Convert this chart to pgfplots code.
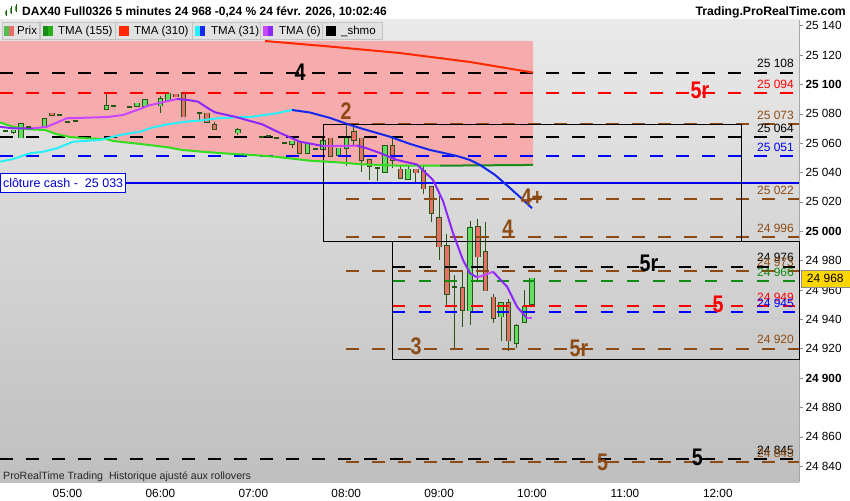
\documentclass[border=0pt]{standalone}
\usepackage{fontspec}
\setmainfont{Liberation Sans}
\usepackage{graphicx}
\usepackage{pgfplots}
\pgfplotsset{compat=1.18}

\definecolor{bgtop}{RGB}{234,234,234}
\definecolor{bgbot}{RGB}{191,191,191}
\definecolor{pinkz}{RGB}{246,172,172}
\definecolor{cdark}{RGB}{38,85,22}
\definecolor{cgreen}{RGB}{98,222,98}
\definecolor{cred}{RGB}{232,112,104}
\definecolor{brownl}{RGB}{140,75,20}
\definecolor{tmagreen}{RGB}{50,220,30}
\definecolor{tmagreend}{RGB}{25,140,25}
\definecolor{tmared}{RGB}{255,40,0}
\definecolor{tmacyan}{RGB}{40,240,250}
\definecolor{tmablue}{RGB}{20,40,235}
\definecolor{tmamag}{RGB}{200,70,255}
\definecolor{tmavio}{RGB}{140,40,250}
\definecolor{lgreen}{RGB}{17,140,17}
\definecolor{pricey}{RGB}{255,215,0}
\definecolor{legbg}{RGB}{226,226,226}
\definecolor{legbd}{RGB}{195,195,195}

\newcommand\fs[1]{\fontsize{#1}{#1}\selectfont}
\newcommand\blab[1]{\scalebox{0.82}[1]{\fs{24}\bfseries #1}}

\pgfplotsset{
  hl/.style={line width=2pt, dash pattern=on 12.5pt off 13.5pt, forget plot},
  ma/.style={line width=2pt, line join=round, forget plot},
}
% candle: time, open, high, low, close, body colour
\newcommand\candle[6]{%
  \addplot[cdark, line width=1pt, forget plot] coordinates {(#1,#4) (#1,#3)};
  \addplot[cdark, line width=5.4pt, shorten <=-0.7pt, shorten >=-0.7pt, forget plot] coordinates {(#1,#2) (#1,#5)};
  \addplot[#6, line width=3.4pt, forget plot] coordinates {(#1,#2) (#1,#5)};}
\newcommand\candG[5]{\candle{#1}{#2}{#3}{#4}{#5}{cgreen}}
\newcommand\candR[5]{\candle{#1}{#2}{#3}{#4}{#5}{cred}}
% doji: time, price, high, low
\newcommand\dojiw[4]{%
  \addplot[cdark, line width=1pt, forget plot] coordinates {(#1,#4) (#1,#3)};
  \addplot[only marks, mark=-, mark size=2.5pt, mark options={cdark, line width=2pt}, forget plot] coordinates {(#1,#2)};}
\newcommand\doji[2]{\dojiw{#1}{#2}{#2}{#2}}

\begin{document}
\begin{tikzpicture}
\useasboundingbox (0,0) rectangle (850pt,500pt);

\begin{axis}[
  at={(0pt,18pt)}, anchor=south west,
  width=799pt, height=462pt, scale only axis,
  xmin=4.2734, xmax=12.874, ymin=24829.3, ymax=25143.9,
  clip=false,
  scaled y ticks=false, scaled x ticks=false,
  axis background/.style={top color=bgtop, bottom color=bgbot},
  axis x line*=bottom, axis y line*=right,
  axis line style={-},
  x axis line style={draw=none},
  y axis line style={draw=black!35, line width=0.8pt},
  xtick={5,6,...,12},
  xticklabels={05:00,06:00,07:00,08:00,09:00,10:00,11:00,12:00},
  xtick style={draw=none},
  ytick={24840,24860,...,25140},
  yticklabels={24 840,24 860,24 880,\textbf{24 900},24 920,24 940,24 960,24 980,\textbf{25 000},25 020,25 040,25 060,25 080,\textbf{25 100},25 120,25 140},
  minor y tick num=1,
  tick align=outside, major tick length=4pt, minor tick length=3pt,
  ytick style={draw=black!45, line width=0.6pt},
  ticklabel style={font=\fs{11.8}},
  yticklabel style={xshift=-1pt},
]

% pink zone above TMA(155)
\addplot[fill=pinkz, draw=none, forget plot] coordinates {
  (4.2734,25129.6) (10.011,25129.6) (10.011,25045.2) (9.225,25044.8) (8.579,25044.7)
  (8.181,25045.6) (7.901,25047.0) (7.610,25048.1) (7.233,25050.8) (6.986,25052.0)
  (6.728,25052.9) (6.448,25054.2) (6.232,25055.4) (6.082,25057.2) (5.780,25059.5)
  (5.490,25061.5) (5.425,25062.7) (5.210,25063.3) (5.027,25064.2) (4.887,25066.1)
  (4.758,25069.0) (4.564,25069.5) (4.413,25071.2) (4.2734,25074.2)} -- cycle;

% candles
\doji{4.3333}{25068.4}
\candG{4.4167}{25067.5}{25068.8}{25066.3}{25068.8}
\candG{4.5}{25063.8}{25073.0}{25063.8}{25073.0}
\doji{4.5833}{25071.1}
\candG{4.75}{25070.6}{25076.4}{25070.6}{25076.4}
\candR{4.8333}{25080.4}{25080.4}{25079.0}{25079.0}
\doji{4.9167}{25079.4}
\doji{5.0}{25074.7}
\doji{5.0833}{25075.4}
\candG{5.4167}{25083.0}{25094.0}{25083.0}{25085.3}
\doji{5.5}{25085.5}
\doji{5.6667}{25084.6}
\candG{5.75}{25085.0}{25087.2}{25085.0}{25087.2}
\candG{5.8333}{25085.1}{25089.4}{25085.1}{25089.4}
\candG{6.0}{25085.5}{25092.2}{25080.7}{25090.1}
\candG{6.0833}{25088.9}{25094.0}{25088.9}{25094.0}
\candR{6.1667}{25093.3}{25093.3}{25091.7}{25091.7}
\candR{6.25}{25094.7}{25094.7}{25078.0}{25078.0}
\dojiw{6.4167}{25080.7}{25080.7}{25075.7}
\candR{6.5}{25080.3}{25080.3}{25074.2}{25074.2}
\candR{6.5833}{25072.4}{25074.2}{25069.8}{25069.8}
\candG{6.8333}{25067.1}{25070.5}{25065.5}{25068.9}
\doji{7.0833}{25064.0}
\doji{7.1667}{25065.1}
\doji{7.25}{25063.8}
\doji{7.3333}{25060.3}
\candG{7.4167}{25059.2}{25061.3}{25056.9}{25061.3}
\candR{7.5}{25061.0}{25061.0}{25053.1}{25053.1}
\candG{7.5833}{25053.1}{25059.2}{25053.1}{25059.2}
\doji{7.6667}{25055.8}
\candG{7.75}{25055.8}{25063.8}{25055.8}{25061.7}
\candR{7.8333}{25063.4}{25063.4}{25051.0}{25051.0}
\candG{7.9167}{25051.9}{25056.5}{25051.9}{25056.5}
\candG{8.0}{25056.5}{25073.0}{25044.6}{25064.0}
\candR{8.0833}{25067.9}{25073.2}{25058.8}{25062.2}
\candR{8.1667}{25063.4}{25063.4}{25040.5}{25048.5}
\candR{8.25}{25048.5}{25048.5}{25035.0}{25044.5}
\dojiw{8.3333}{25043.3}{25043.3}{25034.2}
\candG{8.4167}{25040.1}{25058.2}{25040.1}{25058.2}
\candR{8.5}{25058.2}{25065.0}{25042.9}{25048.6}
\candR{8.5833}{25042.2}{25045.1}{25036.1}{25036.1}
\candG{8.6667}{25035.4}{25044.6}{25035.4}{25042.2}
\candR{8.75}{25042.2}{25042.2}{25032.0}{25040.0}
\candR{8.8333}{25041.3}{25045.2}{25025.4}{25029.0}
\candR{8.9167}{25030.1}{25030.1}{25006.6}{25012.3}
\candR{9.0}{25009.0}{25024.2}{24980.5}{24989.6}
\candR{9.0833}{24990.1}{24998.3}{24949.1}{24957.4}
\dojiw{9.1667}{24962.4}{24970.4}{24920.1}
\candR{9.25}{24961.3}{24973.3}{24935.1}{24946.5}
\candG{9.3333}{24946.0}{25007.1}{24936.3}{25002.4}
\candR{9.4167}{25002.9}{25008.5}{24967.0}{24982.8}
\candR{9.5}{24985.9}{25006.2}{24959.6}{24959.6}
\candR{9.5833}{24955.1}{24957.2}{24937.8}{24940.8}
\candG{9.6667}{24941.9}{24951.1}{24925.5}{24951.1}
\candR{9.75}{24951.1}{24953.8}{24918.7}{24925.5}
\candG{9.8333}{24923.8}{24937.0}{24920.7}{24935.6}
\candG{9.9167}{24938.1}{24960.1}{24938.1}{24948.8}
\candG{10.0}{24950.4}{24968.5}{24950.4}{24968.0}

% horizontal levels
\addplot[hl, black] coordinates {(4.2734,25108) (12.874,25108)};
\addplot[hl, red] coordinates {(4.2734,25094) (12.874,25094)};
\addplot[hl, brownl] coordinates {(8,25073) (12.874,25073)};
\addplot[hl, black] coordinates {(4.2734,25064) (12.874,25064)};
\addplot[hl, blue] coordinates {(4.2734,25051) (12.874,25051)};
\addplot[hl, brownl] coordinates {(8,25022) (12.874,25022)};
\addplot[hl, brownl] coordinates {(8,24996) (12.874,24996)};
\addplot[hl, black] coordinates {(8.5,24976) (12.874,24976)};
\addplot[hl, brownl] coordinates {(8,24973) (12.874,24973)};
\addplot[hl, lgreen] coordinates {(8.5,24966) (12.874,24966)};
\addplot[hl, red] coordinates {(8.5,24949) (12.874,24949)};
\addplot[hl, blue] coordinates {(8.5,24945) (12.874,24945)};
\addplot[hl, brownl] coordinates {(8,24920) (12.874,24920)};
\addplot[hl, black] coordinates {(4.2734,24845) (12.874,24845)};
\addplot[hl, brownl] coordinates {(8,24843) (12.874,24843)};
% cash close
\addplot[line width=1.5pt, blue!93!black, forget plot] coordinates {(4.2734,25033) (12.874,25033)};

% boxes
\addplot[black, line width=0.9pt, forget plot] coordinates {
  (7.75,25073) (12.25,25073) (12.25,24993.4) (7.75,24993.4) (7.75,25073)};
\addplot[black, line width=0.9pt, forget plot] coordinates {
  (8.5,24993.4) (12.874,24993.4) (12.874,24912.9) (8.5,24912.9) (8.5,24993.4)};

% TMA (155)
\addplot[ma, tmagreen] coordinates {
  (4.273,25074.2) (4.413,25071.2) (4.564,25069.5) (4.758,25069.0) (4.887,25066.1)
  (5.027,25064.2) (5.210,25063.3) (5.425,25062.7) (5.490,25061.5) (5.780,25059.5)
  (6.082,25057.2) (6.232,25055.4) (6.448,25054.2) (6.728,25052.9) (6.986,25052.0)
  (7.233,25050.8) (7.610,25048.1) (7.901,25047.0) (8.181,25045.6) (8.579,25044.7)
  (9.01,25044.7)};
\addplot[ma, tmagreend] coordinates {(9.01,25044.7) (9.225,25044.8) (10.011,25045.2)};

% TMA (310)
\addplot[ma, tmared] coordinates {
  (7.126,25129.6) (7.826,25125.8) (8.579,25121.4) (9.333,25115.3) (10.011,25108.1)};

% TMA (31)
\addplot[ma, tmacyan] coordinates {
  (4.273,25047.4) (4.413,25049.2) (4.596,25053.1) (4.736,25054.2) (4.887,25056.5)
  (5.059,25061.0) (5.350,25062.2) (5.565,25065.6) (5.780,25067.8) (5.910,25070.6)
  (6.082,25072.9) (6.265,25074.6) (6.448,25075.6) (6.620,25077.0) (6.803,25077.6)
  (6.986,25078.0) (7.233,25080.2) (7.417,25082.6)};
\addplot[ma, tmablue] coordinates {
  (7.417,25082.6) (7.610,25080.9) (7.826,25077.2) (8.009,25073.1) (8.181,25069.7)
  (8.471,25064.4) (8.687,25059.5) (8.902,25055.4) (9.193,25051.3) (9.333,25048.6)
  (9.440,25045.2) (9.602,25038.4) (9.763,25029.5) (9.925,25020.2) (10.0,25015.7)};

% TMA (6)
\addplot[ma, tmavio] coordinates {(4.273,25071.2) (4.413,25070.1) (4.629,25070.1)};
\addplot[ma, tmamag] coordinates {
  (4.629,25070.1) (4.779,25071.2) (4.995,25077.0) (5.210,25077.4) (5.425,25077.8)
  (5.597,25079.2) (5.780,25083.3) (5.866,25085.5) (6.017,25087.8) (6.179,25090.1)};
\addplot[ma, tmavio] coordinates {
  (6.179,25090.1) (6.297,25089.4) (6.405,25088.3) (6.502,25084.2) (6.588,25081.0)
  (6.803,25078.0) (7.094,25072.9) (7.287,25067.0) (7.503,25061.0) (7.750,25058.1)};
\addplot[ma, tmamag] coordinates {(7.750,25058.1) (8.009,25058.1) (8.116,25058.4)};
\addplot[ma, tmavio] coordinates {
  (8.116,25058.4) (8.224,25056.5) (8.364,25053.3) (8.547,25048.6) (8.762,25045.5)
  (8.934,25035.0) (9.042,25020.7) (9.149,24998.9) (9.257,24980.5) (9.333,24971.4)
  (9.408,24968.7)};
\addplot[ma, tmamag] coordinates {(9.408,24968.7) (9.494,24970.3) (9.580,24972.5)};
\addplot[ma, tmavio] coordinates {(9.580,24972.5) (9.731,24962.3) (9.838,24948.7) (9.946,24940.8)};
\addplot[ma, tmamag] coordinates {(9.946,24940.8) (10.0,24940.8)};

% level values on the right
\begin{scope}[every node/.style={anchor=south east, inner sep=1pt, yshift=3.5pt, font=\fs{12}}]
\node[text=black]  at (axis cs:12.831,25108) {25 108};
\node[text=red]    at (axis cs:12.831,25094) {25 094};
\node[text=brownl] at (axis cs:12.831,25073) {25 073};
\node[text=black]  at (axis cs:12.831,25064) {25 064};
\node[text=blue]   at (axis cs:12.831,25051) {25 051};
\node[text=brownl] at (axis cs:12.831,25022) {25 022};
\node[text=brownl] at (axis cs:12.831,24996) {24 996};
\node[text=black]  at (axis cs:12.831,24976) {24 976};
\node[text=brownl] at (axis cs:12.831,24973) {24 973};
\node[text=lgreen] at (axis cs:12.831,24966) {24 966};
\node[text=red]    at (axis cs:12.831,24949) {24 949};
\node[text=blue]   at (axis cs:12.831,24945) {24 945};
\node[text=brownl] at (axis cs:12.831,24920) {24 920};
\node[text=black]  at (axis cs:12.831,24845) {24 845};
\node[text=brownl] at (axis cs:12.831,24843) {24 843};
\end{scope}

% level marks
\node[text=black]  at (axis cs:7.503,25108) {\blab{4}};
\node[text=red]    at (axis cs:11.808,25096.2) {\blab{5r}};
\node[text=brownl] at (axis cs:8.0,25081.9) {\blab{2}};
\node[text=brownl] at (axis cs:10.0,25023.4) {\blab{4+}};
\node[text=brownl] at (axis cs:9.74,25001.9) {\blab{4}};
\node[text=black]  at (axis cs:11.259,24978.3) {\blab{5r}};
\node[text=red]    at (axis cs:12.002,24950.5) {\blab{5}};
\node[text=brownl] at (axis cs:8.751,24921.9) {\blab{3}};
\node[text=brownl] at (axis cs:10.506,24920.5) {\blab{5r}};
\node[text=brownl] at (axis cs:10.76,24843.0) {\blab{5}};
\node[text=black]  at (axis cs:11.78,24846.4) {\blab{5}};

% cash close tag and last price
\node[anchor=west, draw=blue!93!black, fill=white, line width=1pt, text=blue!80!black,
  font=\fs{12.5}, inner xsep=2.5pt, minimum height=19pt] at (axis cs:4.2734,25033) {clôture cash -\ \ 25 033};
\node[anchor=west, fill=pricey, draw=black!45, line width=0.6pt, font=\fs{12},
  minimum height=17pt, minimum width=49pt, inner sep=1pt, xshift=1.5pt] at (axis cs:12.874,24968) {24 968};
\end{axis}

% header
\fill[cgreen!80!black] (5pt,485pt) rectangle (7pt,489pt);
\draw[cdark, line width=0.6pt] (6pt,484pt) -- (6pt,490pt);
\fill[cgreen!80!black] (10pt,487pt) rectangle (12pt,492pt);
\draw[cdark, line width=0.6pt] (11pt,486pt) -- (11pt,494pt);
\fill[cgreen!80!black] (15pt,489pt) rectangle (17pt,494pt);
\draw[cdark, line width=0.6pt] (16pt,488pt) -- (16pt,496pt);
\node[anchor=base west, inner sep=0pt, font=\fs{12}\bfseries] at (22pt,484pt)
  {DAX40 Full0326 5 minutes 24 968 -0,24 \% 24 févr. 2026, 10:02:46};
\node[anchor=base east, inner sep=0pt, font=\fs{12.2}\bfseries] at (846pt,484pt)
  {Trading.ProRealTime.com};

% legend row
\begin{scope}[every node/.style={anchor=base west, inner sep=0pt, font=\fs{11.5}}]
\filldraw[fill=legbg, draw=legbd] (2pt,460.7pt) rectangle (39pt,477.3pt);
\fill[cgreen!85!black] (3.5pt,464pt) rectangle (8.5pt,474pt);
\fill[cred] (8.5pt,464pt) rectangle (13.5pt,474pt);
\node at (17pt,465pt) {Prix};
\filldraw[fill=legbg, draw=legbd] (40pt,460.7pt) rectangle (115pt,477.3pt);
\fill[tmagreend] (43pt,464pt) rectangle (48pt,474pt);
\fill[tmagreen!80!black] (48pt,464pt) rectangle (53pt,474pt);
\node at (58pt,465pt) {TMA (155)};
\filldraw[fill=legbg, draw=legbd] (115pt,460.7pt) rectangle (192pt,477.3pt);
\fill[tmared] (119pt,464pt) rectangle (129pt,474pt);
\node at (134pt,465pt) {TMA (310)};
\filldraw[fill=legbg, draw=legbd] (192pt,460.7pt) rectangle (260pt,477.3pt);
\fill[tmacyan] (195pt,464pt) rectangle (200pt,474pt);
\fill[tmablue] (200pt,464pt) rectangle (205pt,474pt);
\node at (211pt,465pt) {TMA (31)};
\filldraw[fill=legbg, draw=legbd] (260pt,460.7pt) rectangle (322pt,477.3pt);
\fill[tmamag] (263pt,464pt) rectangle (268pt,474pt);
\fill[tmavio] (268pt,464pt) rectangle (273pt,474pt);
\node at (279pt,465pt) {TMA (6)};
\filldraw[fill=legbg, draw=legbd] (322pt,460.7pt) rectangle (382pt,477.3pt);
\fill[black] (326pt,464pt) rectangle (336pt,474pt);
\node at (341pt,465pt) {\_shmo};
\end{scope}

% footer note
\node[anchor=base west, inner sep=0pt, font=\fs{10.6}, text=black!85] at (3pt,20.7pt)
  {ProRealTime Trading\ \ Historique ajusté aux rollovers};
\end{tikzpicture}
\end{document}
